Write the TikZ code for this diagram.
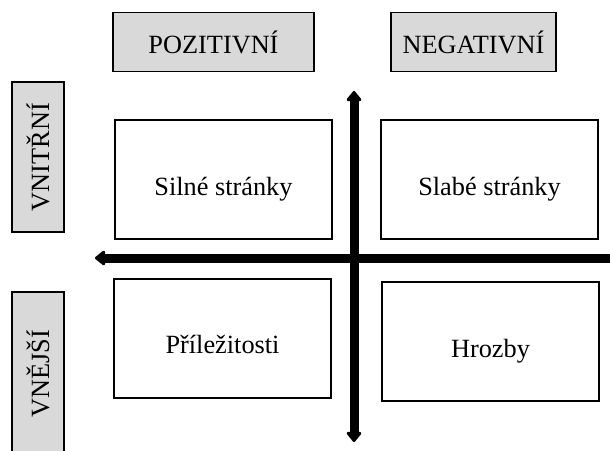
\documentclass[tikz,border=0pt]{standalone}
\usepackage{fontspec}
\setmainfont{Liberation Serif}
\usetikzlibrary{arrows.meta}
\definecolor{headgray}{HTML}{D9D9D9}
\begin{document}
\begin{tikzpicture}[x=1pt,y=-1pt,
  every node/.style={font=\fontsize{26.3}{30}\selectfont, inner sep=0pt},
  headbox/.style={draw=black, line width=1.6pt, fill=headgray},
  fieldbox/.style={draw=black, line width=1.6pt, fill=white,
    minimum width=217pt, minimum height=119pt, text height=31pt, text depth=0pt},
  axis/.style={line width=9pt, -{Triangle[length=11pt,width=17pt,round]}}]
\useasboundingbox (0,0) rectangle (610,450);
\clip (0,0) rectangle (610,450);

% column headers
\node[headbox, minimum width=201pt, minimum height=59pt] (pos) at (213.5,42) {POZITIVNÍ};
\node[headbox, minimum width=165pt, minimum height=59pt] (neg) at (473.5,42) {NEGATIVNÍ};

% row headers, text reads bottom to top
\node[headbox, rotate=90, minimum width=150pt, minimum height=52pt] (inn) at (38,157) {VNITŘNÍ};
\node[headbox, rotate=90, minimum width=163pt, minimum height=52pt] (out) at (38,373.5) {VNĚJŠÍ};

% the four fields
\node[fieldbox] (str) at (223.5,179.5) {Silné stránky};
\node[fieldbox] (wea) at (489.5,179.5) {Slabé stránky};
\node[fieldbox, text height=29pt] (opp) at (222.5,338.5) {Příležitosti};
\node[fieldbox] (thr) at (490.5,341.5) {Hrozby};

% axes
\coordinate (hright) at (615,258);
\coordinate (hleft) at (95,258);
\coordinate (vtop) at (354,91);
\coordinate (vbot) at (354,442);
\draw[axis] (hright) -- (hleft);
\draw[axis, {Triangle[length=11pt,width=17pt,round]}-{Triangle[length=11pt,width=17pt,round]}] (vtop) -- (vbot);
\end{tikzpicture}
\end{document}
